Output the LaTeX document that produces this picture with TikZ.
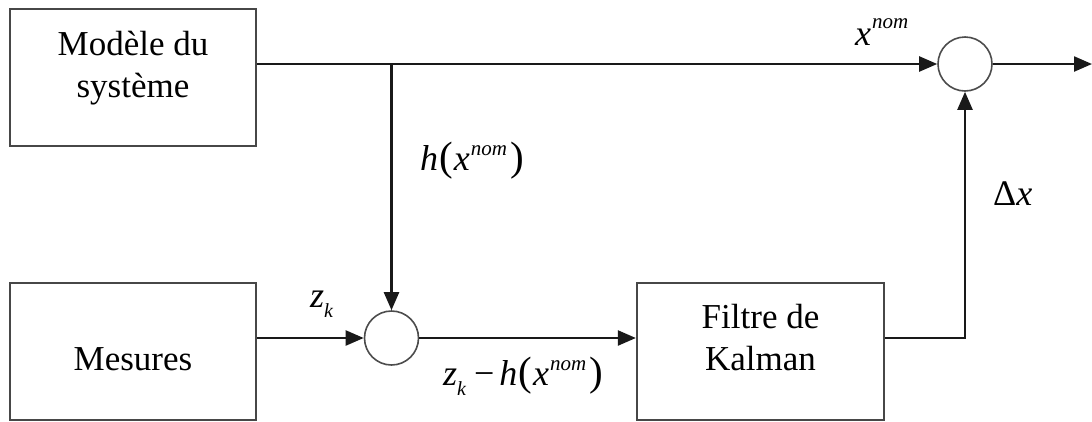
\documentclass[tikz,border=0pt]{standalone}
\usepackage{fontspec}
\setmainfont{Liberation Serif}
\usetikzlibrary{arrows.meta}
\newcommand\nomsup[1][16pt]{\kern1pt\raisebox{#1}{\fontsize{21}{21}\selectfont nom}}
\newcommand\subk{\raisebox{-10pt}{\fontsize{20}{20}\selectfont k}}
\newcommand\lpar{{\upshape\fontsize{41}{41}\selectfont(}}
\newcommand\rpar{{\upshape\fontsize{41}{41}\selectfont)}}
\begin{document}
\begin{tikzpicture}[x=1pt,y=-1pt,
  box/.style={draw=black!72, line width=2.3pt, inner sep=0pt, font=\fontsize{35}{42}\selectfont},
  sumc/.style={circle, draw=black!70, line width=1.6pt, minimum size=54pt, inner sep=0pt},
  conn/.style={line width=2.3pt, draw=black!90},
  arr/.style={conn, -{Triangle[length=18pt,width=15pt]}},
  lab/.style={inner sep=0pt, anchor=base west, font=\fontsize{36}{36}\selectfont\itshape}]
\useasboundingbox (0,0) rectangle (1092,421);
% boxes
\node[box] (mod) at (133,77.5) {\parbox[c][137pt][t]{246pt}{\centering\rule{0pt}{46pt}Modèle du\\système}};
\node[box] (mes) at (133,351.5) {\parbox[c][137pt][t]{246pt}{\centering\rule{0pt}{87pt}Mesures}};
\node[box] (kal) at (760.5,351.5) {\parbox[c][137pt][t]{247pt}{\centering\rule{0pt}{45pt}Filtre de\\Kalman}};
% summing junctions
\node[sumc] (c1) at (965,64) {};
\node[sumc] (c2) at (391.5,338) {};
\coordinate (j) at (c2 |- c1);
\coordinate (out) at (1092,64);
% connectors
\draw[arr] (mod.east |- c1) -- (c1.west);
\draw[arr] (j) -- (c2.north);
\draw[arr] (mes.east |- c2) -- (c2.west);
\draw[arr] (c2.east) -- (kal.west |- c2);
\draw[arr] (kal.east |- c2) -| (c1.south);
\draw[arr] (c1.east) -- (out);
% labels
\node[lab] (lxnom) at (855,45) {x\nomsup[17pt]};
\node[lab] (lh) at (420,170) {h\kern1pt\lpar\kern1pt x\nomsup[15pt]\kern3pt\rpar};
\node[lab] (ldx) at (993,205) {{\upshape Δ}x};
\node[lab] (lzk) at (310,307) {z\subk};
\node[lab] (lzh) at (443,385) {z\subk\kern8pt{\upshape −}\kern5pt h\kern1pt\lpar\kern1pt x\nomsup[15pt]\kern3pt\rpar};
\end{tikzpicture}
\end{document}
